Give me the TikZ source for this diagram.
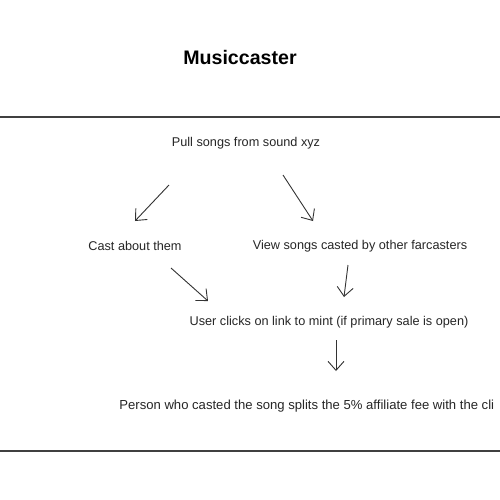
\documentclass[tikz,border=0pt]{standalone}
\usepackage{fontspec}
\setmainfont{Liberation Sans}
\usetikzlibrary{arrows.meta}
\tikzset{
  lbl/.style={inner sep=0pt, text=black!85, font=\fontsize{6.35}{7.5}\selectfont},
  ttl/.style={inner sep=0pt, text=black, font=\fontsize{9.8}{11}\selectfont\bfseries},
  arr/.style={draw=black!80, line width=0.45pt, -{Straight Barb[length=4.5pt,width=8pt]}},
  rule/.style={draw=black!75, line width=0.6pt}
}
\begin{document}
\begin{tikzpicture}[x=0.5pt,y=-0.5pt]
\useasboundingbox (0,0) rectangle (500,500);
\clip (0,0) rectangle (500,500);
\fill[white] (0,0) rectangle (500,500);
\node[ttl] (title) at (240,57) {Musiccaster};
\draw[rule] (0,117) -- (500,117);
\draw[rule] (0,451) -- (500,451);
\node[lbl] (pull) at (246,143) {Pull songs from sound xyz};
\node[lbl] (cast) at (135,246) {Cast about them};
\node[lbl] (view) at (360,246) {View songs casted by other farcasters};
\node[lbl] (user) at (329,322) {User clicks on link to mint (if primary sale is open)};
\node[lbl, anchor=west, font=\fontsize{6.55}{8}\selectfont] (person) at (119,406) {Person who casted the song splits the 5\% affiliate fee with the cli};
\coordinate (a1s) at (169,185); \coordinate (a1e) at (135,221);
\coordinate (a2s) at (283,175); \coordinate (a2e) at (313,221);
\coordinate (a3s) at (171,268); \coordinate (a3e) at (208,301);
\coordinate (a4s) at (348,265); \coordinate (a4e) at (344,297);
\coordinate (a5s) at (336,340); \coordinate (a5e) at (336,371);
\draw[arr] (a1s) -- (a1e);
\draw[arr] (a2s) -- (a2e);
\draw[arr] (a3s) -- (a3e);
\draw[arr] (a4s) -- (a4e);
\draw[arr] (a5s) -- (a5e);
\end{tikzpicture}
\end{document}
